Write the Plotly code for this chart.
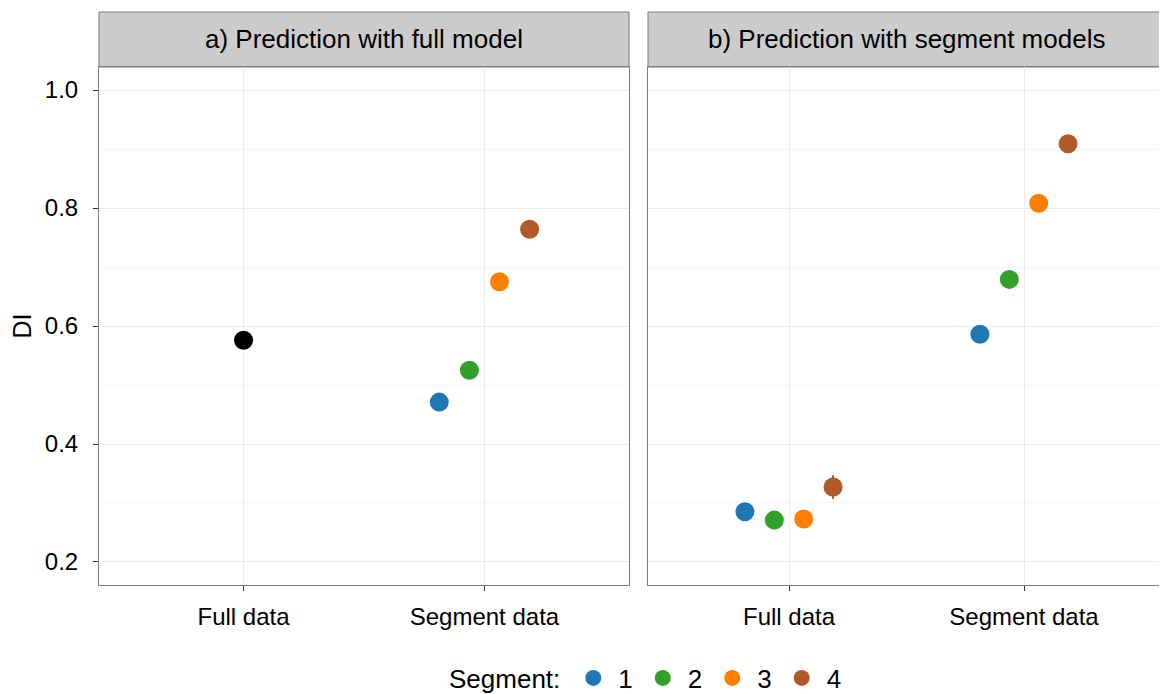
import plotly.graph_objects as go

# ---- data ----
categories = ["Full data", "Segment data"]
segments = ["1", "2", "3", "4"]
colors = ["#1f78b4", "#33a02c", "#ff7f00", "#b15928"]

# panel a: full model
full_model_full_data = 0.576
full_model_full_err = 0.004
full_model_segment = [0.471, 0.525, 0.675, 0.764]
full_model_segment_err = [0.004, 0.004, 0.004, 0.004]

# panel b: segment models
seg_model_full_data = [0.285, 0.271, 0.273, 0.327]
seg_model_full_err = [0.004, 0.004, 0.004, 0.020]
seg_model_segment = [0.586, 0.679, 0.808, 0.909]
seg_model_segment_err = [0.004, 0.004, 0.004, 0.004]

dodge_width = 0.5
FONT = "Liberation Sans, Arial, Helvetica, sans-serif"
MS = 19

def dodge(cat_idx, g, n=4):
    slot = dodge_width / n
    return cat_idx + 1 + (g - (n - 1) / 2) * slot

fig = go.Figure()

fig.add_trace(go.Scatter(
    x=[1], y=[full_model_full_data], mode="markers",
    marker=dict(color="black", size=MS),
    error_y=dict(type="data", array=[full_model_full_err], width=0, thickness=2, color="black"),
    xaxis="x", yaxis="y", showlegend=False, hoverinfo="y"))

for g, seg in enumerate(segments):
    fig.add_trace(go.Scatter(
        x=[dodge(1, g)], y=[full_model_segment[g]], mode="markers",
        marker=dict(color=colors[g], size=MS),
        error_y=dict(type="data", array=[full_model_segment_err[g]], width=0, thickness=2, color=colors[g]),
        xaxis="x", yaxis="y", name=seg, legendgroup=seg, showlegend=True))
    fig.add_trace(go.Scatter(
        x=[dodge(0, g), dodge(1, g)],
        y=[seg_model_full_data[g], seg_model_segment[g]], mode="markers",
        marker=dict(color=colors[g], size=MS),
        error_y=dict(type="data", array=[seg_model_full_err[g], seg_model_segment_err[g]],
                     width=0, thickness=2, color=colors[g]),
        xaxis="x2", yaxis="y2", name=seg, legendgroup=seg, showlegend=False))

# page has an 8px body margin; lay out in figure coordinates
W, H = 1159, 686
xa = [91 / W, 621 / W]
xb = [640 / W, 1157 / W]
ydom = [(H - 577) / H, (H - 59) / H]
strip_top = (H - 4) / H

xcommon = dict(range=[0.4, 2.6], tickvals=[1, 2], ticktext=categories,
               showgrid=True, gridcolor="#ebebeb", gridwidth=1,
               showline=True, linecolor="#7f7f7f", linewidth=1, mirror=True,
               ticks="outside", ticklen=5, tickcolor="#333333", ticklabelstandoff=5,
               tickfont=dict(family=FONT, size=24, color="black"), zeroline=False)
ycommon = dict(range=[0.161, 1.039], tickvals=[0.2, 0.4, 0.6, 0.8, 1.0],
               showgrid=True, gridcolor="#ebebeb", gridwidth=1,
               minor=dict(dtick=0.1, tick0=0.1, showgrid=True, gridcolor="#f5f5f5", ticks=""),
               showline=True, linecolor="#7f7f7f", linewidth=1, mirror=True,
               zeroline=False)

fig.update_layout(
    width=W, height=H,
    margin=dict(l=0, r=0, t=0, b=0, autoexpand=False),
    plot_bgcolor="white", paper_bgcolor="white",
    font=dict(family=FONT, size=24, color="black"),
    xaxis=dict(domain=xa, anchor="y", automargin=False, **xcommon),
    xaxis2=dict(domain=xb, anchor="y2", automargin=False, **xcommon),
    yaxis=dict(domain=ydom, anchor="x", ticks="outside", ticklen=5, tickcolor="#333333",
               ticklabelstandoff=10, automargin=False,
               tickformat=".1f", tickfont=dict(family=FONT, size=24, color="black"),
               title=dict(text="DI", font=dict(family=FONT, size=25), standoff=14), **ycommon),
    yaxis2=dict(domain=ydom, anchor="x2", matches="y", showticklabels=False, ticks="",
                automargin=False, **ycommon),
    legend=dict(orientation="h", x=639 / W, xanchor="center", y=16 / H, yanchor="middle",
                title=dict(text="Segment:", font=dict(family=FONT, size=26)),
                font=dict(family=FONT, size=26), itemwidth=40),
    showlegend=True,
)

strips = [(xa, "a) Prediction with full model"), (xb, "b) Prediction with segment models")]
for dom, text in strips:
    fig.add_shape(type="rect", xref="paper", yref="paper",
                  x0=dom[0], x1=dom[1], y0=ydom[1], y1=strip_top,
                  fillcolor="#cccccc", line=dict(color="#7f7f7f", width=1), layer="below")
    fig.add_annotation(xref="paper", yref="paper", x=(dom[0] + dom[1]) / 2,
                       y=(ydom[1] + strip_top) / 2, text=text, showarrow=False,
                       font=dict(family=FONT, size=26, color="black"),
                       xanchor="center", yanchor="middle")

fig.write_html("out.html")
